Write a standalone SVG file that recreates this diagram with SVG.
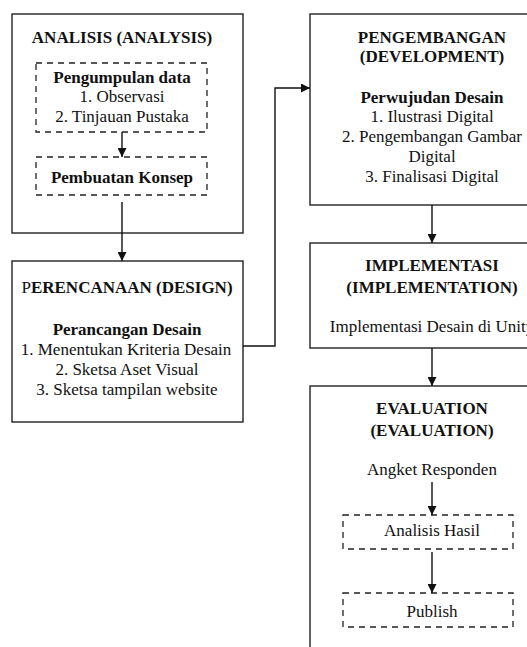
<svg xmlns="http://www.w3.org/2000/svg" width="527" height="647" viewBox="0 0 527 647">
<defs>
<style>
text{font-size:17px;fill:#111;text-anchor:middle}
.b{font-weight:bold}
.box{fill:#fff;stroke:#222;stroke-width:1.4}
.dash{fill:none;stroke:#222;stroke-width:1.3;stroke-dasharray:6 5}
.ln{fill:none;stroke:#111;stroke-width:1.4}
</style>
<marker id="ah2" viewBox="0 0 10 10" refX="10" refY="5" markerWidth="10" markerHeight="9" orient="auto" markerUnits="userSpaceOnUse"><path d="M0,0 L10,5 L0,10 z" fill="#111"/></marker>
</defs>
<rect width="527" height="647" fill="#fff"/>
<g font-family="'Liberation Serif', 'Times New Roman', 'DejaVu Serif', serif">
<g id="analisis">
<rect class="box" x="12" y="14" width="231" height="219"/>
<text class="b" x="122" y="42.5">ANALISIS (ANALYSIS)</text>
<rect class="dash" x="36" y="63" width="171" height="69"/>
<text class="b" x="122" y="83">Pengumpulan data</text>
<text x="122" y="102">1. Observasi</text>
<text x="122" y="122">2. Tinjauan Pustaka</text>
<rect class="dash" x="36" y="157" width="171" height="38"/>
<text class="b" x="122" y="183">Pembuatan Konsep</text>
</g>
<g id="perencanaan">
<rect class="box" x="12" y="261" width="231" height="161"/>
<text class="b" x="127" y="293"><tspan font-weight="normal">P</tspan>ERENCANAAN (DESIGN)</text>
<text class="b" x="127" y="335">Perancangan Desain</text>
<text x="126" y="355">1. Menentukan Kriteria Desain</text>
<text x="127" y="375">2. Sketsa Aset Visual</text>
<text x="127" y="395">3. Sketsa tampilan website</text>
</g>
<g id="pengembangan">
<rect class="box" x="310" y="14" width="250" height="191"/>
<text class="b" x="432" y="43">PENGEMBANGAN</text>
<text class="b" x="432" y="62">(DEVELOPMENT)</text>
<text class="b" x="432" y="102.5">Perwujudan Desain</text>
<text x="432" y="122">1. Ilustrasi Digital</text>
<text x="432" y="142">2. Pengembangan Gambar</text>
<text x="432" y="162">Digital</text>
<text x="432" y="181.5">3. Finalisasi Digital</text>
</g>
<g id="implementasi">
<rect class="box" x="310" y="243" width="250" height="105"/>
<text class="b" x="432" y="271">IMPLEMENTASI</text>
<text class="b" x="432" y="293">(IMPLEMENTATION)</text>
<text x="432" y="331.5">Implementasi Desain di Unity</text>
</g>
<g id="evaluation">
<rect class="box" x="310" y="386" width="250" height="300"/>
<text class="b" x="432" y="414">EVALUATION</text>
<text class="b" x="432" y="436">(EVALUATION)</text>
<text x="432" y="475">Angket Responden</text>
<rect class="dash" x="343" y="515" width="170" height="34"/>
<text x="432" y="536">Analisis Hasil</text>
<rect class="dash" x="343" y="593" width="170" height="34"/>
<text x="432" y="617">Publish</text>
</g>
</g>
<g id="connectors">
<path class="ln" d="M122,132 V157" marker-end="url(#ah2)"/>
<path class="ln" d="M122,202 V261" marker-end="url(#ah2)"/>
<path class="ln" d="M243,346 H275 V88 H310" marker-end="url(#ah2)"/>
<path class="ln" d="M432,205 V243" marker-end="url(#ah2)"/>
<path class="ln" d="M432,348 V386" marker-end="url(#ah2)"/>
<path class="ln" d="M432,482 V515" marker-end="url(#ah2)"/>
<path class="ln" d="M432,552 V593" marker-end="url(#ah2)"/>
</g>
</svg>
